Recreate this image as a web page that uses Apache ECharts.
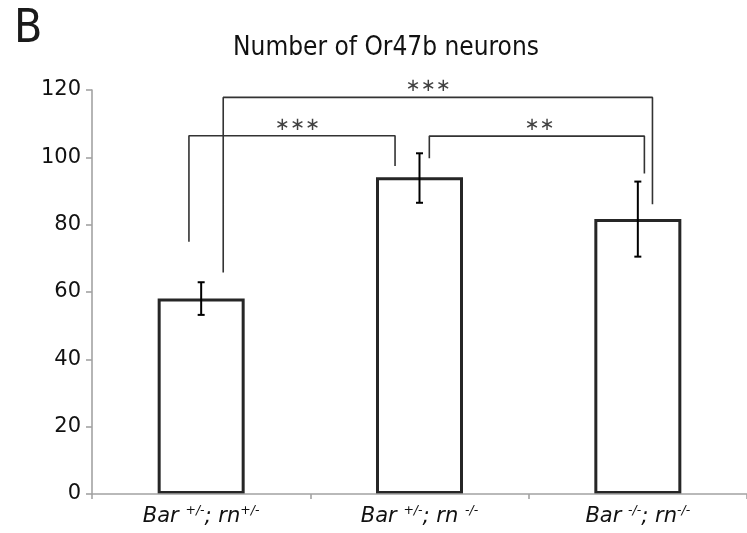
<!DOCTYPE html>
<html>
<head>
<meta charset="utf-8">
<script src="https://cdn.jsdelivr.net/npm/echarts@6/dist/echarts.min.js"></script>
<style>
html,body{margin:0;padding:0;background:#fff;}
#chart{width:747px;height:533px;}
</style>
</head>
<body>
<div id="chart"></div>
<script>
// ---- data ----
const categories = ['Bar +/-; rn+/-', 'Bar +/-; rn -/-', 'Bar -/-; rn-/-'];
const meanValues = [58.1, 94.1, 81.7];
const errLow = [53.2, 86.5, 70.5];
const errHigh = [62.9, 101.2, 92.8];
const yTicks = [0, 20, 40, 60, 80, 100, 120];

// significance brackets (x in category-index units, y in data units)
const bracketLeftX = [-0.056, 0.101, 1.045];
const bracketRightX = [0.888, 2.067, 2.030];
const bracketLeftBottom = [74.9, 65.8, 99.7];
const bracketTop = [106.4, 117.8, 106.3];
const bracketRightBottom = [97.4, 86.1, 95.2];
const starLabels = ['***', '***', '**'];
const starX = [0.441, 1.040, 1.550];
const starY = [109.6, 121.0, 109.6];

const chart = echarts.init(document.getElementById('chart'), null, {renderer: 'canvas'});

const narrow = '"Liberation Sans Narrow", "DejaVu Sans Condensed", sans-serif';
const labelFont = '"DejaVu Sans", sans-serif';

function labelRich(value) {
  return value.split(/([+\-]\/-)/).map(function (p) {
    if (/^[+\-]\/-$/.test(p)) return '{s|' + p + '}';
    return p ? '{n|' + p + '}' : '';
  }).join('');
}

const bracketSeries = bracketLeftX.map(function (lx, i) {
  return {
    type: 'line',
    xAxisIndex: 1,
    yAxisIndex: 0,
    symbol: 'none',
    silent: true,
    clip: false,
    lineStyle: {color: '#333', width: 1.6},
    data: [
      [lx, bracketLeftBottom[i]],
      [lx, bracketTop[i]],
      [bracketRightX[i], bracketTop[i]],
      [bracketRightX[i], bracketRightBottom[i]]
    ],
    z: 3
  };
});

const option = {
  backgroundColor: '#fff',
  animation: false,
  title: [
    {
      text: 'B', left: 9, top: 2,
      textStyle: {fontFamily: narrow, fontSize: 46, fontWeight: 'normal', color: '#1a1a1a'}
    },
    {
      text: 'Number of Or47b neurons', left: 381, top: 30, textAlign: 'center',
      textStyle: {fontFamily: narrow, fontSize: 26, fontWeight: 'normal', color: '#111'}
    }
  ],
  grid: {left: 92, top: 90, width: 657, height: 404, containLabel: false},
  xAxis: [
    {
      type: 'category',
      data: categories,
      boundaryGap: true,
      axisLine: {show: true, onZero: false, lineStyle: {color: '#a3a3a3', width: 1.6}},
      axisTick: {show: true, length: 5, lineStyle: {color: '#a3a3a3', width: 1.6}},
      axisLabel: {
        margin: 10,
        interval: 0,
        fontFamily: labelFont,
        fontStyle: 'italic',
        fontSize: 21,
        color: '#111',
        formatter: labelRich,
        rich: {
          n: {fontFamily: labelFont, fontStyle: 'italic', fontSize: 21, color: '#111', lineHeight: 26},
          s: {fontFamily: labelFont, fontStyle: 'italic', fontSize: 12.5, color: '#111', lineHeight: 17, verticalAlign: 'top'}
        }
      },
      splitLine: {show: false},
      z: 5
    },
    {
      type: 'value',
      min: -0.5,
      max: 2.5,
      show: false
    }
  ],
  yAxis: {
    type: 'value',
    min: 0,
    max: 120,
    interval: 20,
    axisLine: {show: true, onZero: false, lineStyle: {color: '#a3a3a3', width: 1.6}},
    axisTick: {show: true, length: 6, lineStyle: {color: '#a3a3a3', width: 1.6}},
    axisLabel: {
      margin: 11,
      fontFamily: '"DejaVu Sans", sans-serif',
      fontSize: 21,
      color: '#111',
      formatter: function (v) { return yTicks.indexOf(v) >= 0 ? String(v) : ''; }
    },
    splitLine: {show: false}
  },
  series: [
    {
      type: 'bar',
      data: meanValues,
      barWidth: 87,
      itemStyle: {color: '#fff', borderColor: '#262626', borderWidth: 3},
      z: 2
    },
    {
      type: 'custom',
      xAxisIndex: 0,
      yAxisIndex: 0,
      data: meanValues.map(function (m, i) { return [i, errLow[i], errHigh[i]]; }),
      renderItem: function (params, api) {
        const lo = api.coord([api.value(0), api.value(1)]);
        const hi = api.coord([api.value(0), api.value(2)]);
        const hw = 3.5;
        const st = {stroke: '#000', lineWidth: 2};
        return {
          type: 'group',
          children: [
            {type: 'line', shape: {x1: lo[0], y1: lo[1], x2: hi[0], y2: hi[1]}, style: st},
            {type: 'line', shape: {x1: lo[0] - hw, y1: lo[1], x2: lo[0] + hw, y2: lo[1]}, style: st},
            {type: 'line', shape: {x1: hi[0] - hw, y1: hi[1], x2: hi[0] + hw, y2: hi[1]}, style: st}
          ]
        };
      },
      z: 4
    }
  ].concat(bracketSeries).concat([
    {
      type: 'scatter',
      xAxisIndex: 1,
      yAxisIndex: 0,
      symbolSize: 0,
      clip: false,
      silent: true,
      data: starX.map(function (x, i) { return {value: [x, starY[i]], name: starLabels[i]}; }),
      label: {
        show: true,
        position: 'inside',
        formatter: function (p) { return p.name.replace(/\*/g, '\u2217'); },
        fontFamily: '"DejaVu Sans", sans-serif',
        fontSize: 18,
        color: '#111'
      },
      z: 6
    }
  ])
};

chart.setOption(option);
</script>
</body>
</html>
